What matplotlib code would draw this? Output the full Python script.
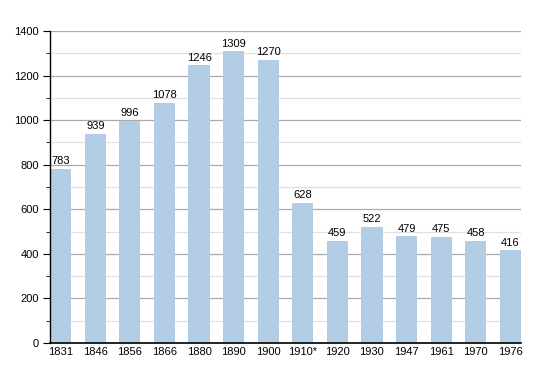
import matplotlib
matplotlib.use("Agg")
import matplotlib.pyplot as plt
from matplotlib.ticker import MultipleLocator

years = ["1831", "1846", "1856", "1866", "1880", "1890", "1900", "1910*", "1920", "1930", "1947", "1961", "1970", "1976"]
population = [783, 939, 996, 1078, 1246, 1309, 1270, 628, 459, 522, 479, 475, 458, 416]

plt.rcParams['font.family'] = ['Liberation Sans', 'DejaVu Sans']
fig = plt.figure(figsize=(5.5, 3.73), dpi=100)
ax = fig.add_axes([50/550, 30/373, 471/550, 312/373])

x = list(range(len(years)))
ax.bar(x, population, width=0.61, color="#b3cde6", zorder=2)
for xi, v in zip(x, population):
    ax.text(xi, v + 12, str(v), ha="center", va="bottom", fontsize=8, zorder=3)

ax.set_xlim(-0.31, len(years) - 1 + 0.31)
ax.set_ylim(0, 1400)
ax.set_xticks(x)
ax.set_xticklabels(years)
ax.yaxis.set_major_locator(MultipleLocator(200))
ax.yaxis.set_minor_locator(MultipleLocator(100))
ax.grid(axis="y", which="major", color="#aaaaaa", linewidth=0.9, zorder=0)
ax.grid(axis="y", which="minor", color="#e0e0e0", linewidth=0.9, zorder=0)
ax.set_axisbelow(True)
for s in ["top", "right"]:
    ax.spines[s].set_visible(False)
ax.spines["left"].set_linewidth(1.0)
ax.spines["bottom"].set_linewidth(1.2)
ax.tick_params(axis="y", which="major", length=5, labelsize=8, pad=3)
ax.tick_params(axis="y", which="minor", length=3)
ax.tick_params(axis="x", length=0, labelsize=8, pad=3)

fig.savefig("out.png", dpi=100)
